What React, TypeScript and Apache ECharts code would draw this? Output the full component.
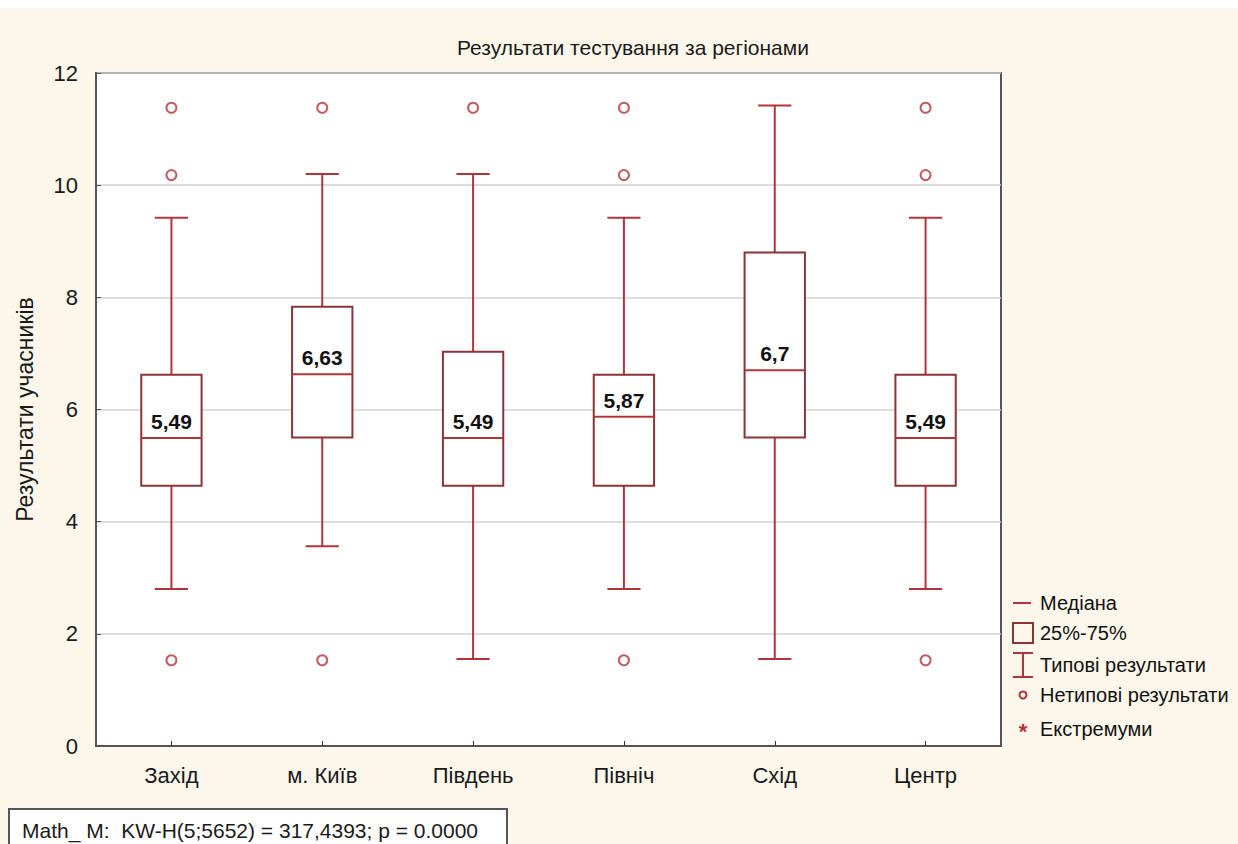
import React, { useEffect, useRef } from "react";
import * as echarts from "echarts";

const categories = ["Захід", "м. Київ", "Південь", "Північ", "Схід", "Центр"];
const whiskerLow = [2.8, 3.56, 1.55, 2.8, 1.55, 2.8];
const q1 = [4.64, 5.5, 4.64, 4.64, 5.5, 4.64];
const medians = [5.49, 6.63, 5.49, 5.87, 6.7, 5.49];
const q3 = [6.62, 7.83, 7.03, 6.62, 8.8, 6.62];
const whiskerHigh = [9.42, 10.2, 10.2, 9.42, 11.42, 9.42];
const outliers: [number, number][] = [
  [0, 1.53], [0, 10.18], [0, 11.38],
  [1, 1.53], [1, 11.38],
  [2, 11.38],
  [3, 1.53], [3, 10.18], [3, 11.38],
  [5, 1.53], [5, 10.18], [5, 11.38],
];
const yTicks = { min: 0, max: 12, interval: 2 };
const titleText = "Результати тестування за регіонами";
const yName = "Результати учасників";
const legendItems = ["Медіана", "25%-75%", "Типові результати", "Нетипові результати", "Екстремуми"];
const statText = "Math_ M:  KW-H(5;5652) = 317,4393; p = 0.0000";

const RED = "#b2343b";
const DARK = "#8a3438";
const FONT = "'Liberation Sans', Arial, sans-serif";

export default function App() {
  const ref = useRef<HTMLDivElement>(null);
  useEffect(() => {
    if (!ref.current) return;
    const chart = echarts.init(ref.current, null, { renderer: "svg" });
    const boxData = categories.map((_, i) => [i, whiskerLow[i], q1[i], medians[i], q3[i], whiskerHigh[i]]);

    const legendX = 1013;
    const legendTextX = 1040;
    const ly = [595, 625, 657, 687, 721];

    chart.setOption({
      animation: false,
      backgroundColor: "#fcf7ea",
      textStyle: { fontFamily: FONT },
      title: {
        text: titleText,
        left: 628,
        top: 24,
        textAlign: "center",
        textStyle: { fontSize: 21, fontWeight: "normal", color: "#1a1a1a", fontFamily: FONT },
      },
      grid: {
        left: 96,
        top: 65,
        width: 905,
        height: 673,
        show: true,
        backgroundColor: "#ffffff",
        borderColor: "#555555",
        borderWidth: 2,
      },
      xAxis: {
        type: "category",
        data: categories,
        boundaryGap: true,
        axisLine: { show: true, lineStyle: { color: "#555555", width: 2 } },
        axisTick: { show: true, alignWithLabel: true, inside: true, length: 5, lineStyle: { color: "#333" } },
        axisLabel: { fontSize: 22, color: "#1a1a1a", margin: 18, fontFamily: FONT },
        splitLine: { show: false },
      },
      yAxis: {
        type: "value",
        min: yTicks.min,
        max: yTicks.max,
        interval: yTicks.interval,
        name: yName,
        nameLocation: "middle",
        nameGap: 60,
        nameTextStyle: { fontSize: 23, color: "#1a1a1a", fontFamily: FONT },
        axisLine: { show: true, lineStyle: { color: "#555555", width: 2 } },
        axisTick: { show: true, inside: true, length: 5, lineStyle: { color: "#555" } },
        axisLabel: { fontSize: 22, color: "#1a1a1a", margin: 18, fontFamily: FONT },
        splitLine: { show: true, lineStyle: { color: "#d2d2d2", width: 1.5 } },
      },
      series: [
        {
          type: "custom",
          data: boxData,
          encode: { x: 0, y: [1, 2, 3, 4, 5] },
          renderItem: (params: any, api: any) => {
            const idx = api.value(0);
            const lo = api.coord([idx, api.value(1)]);
            const b1 = api.coord([idx, api.value(2)]);
            const md = api.coord([idx, api.value(3)]);
            const b3 = api.coord([idx, api.value(4)]);
            const hi = api.coord([idx, api.value(5)]);
            const band = api.size([1, 0])[0];
            const bw = band * 0.4;
            const cw = band * 0.22;
            const x = lo[0];
            const lineStyle = { stroke: RED, lineWidth: 2 };
            const medVal = String(api.value(3)).replace(".", ",");
            return {
              type: "group",
              children: [
                { type: "line", shape: { x1: x, y1: hi[1], x2: x, y2: b3[1] }, style: lineStyle },
                { type: "line", shape: { x1: x, y1: b1[1], x2: x, y2: lo[1] }, style: lineStyle },
                { type: "line", shape: { x1: x - cw / 2, y1: hi[1], x2: x + cw / 2, y2: hi[1] }, style: lineStyle },
                { type: "line", shape: { x1: x - cw / 2, y1: lo[1], x2: x + cw / 2, y2: lo[1] }, style: lineStyle },
                {
                  type: "rect",
                  shape: { x: x - bw / 2, y: b3[1], width: bw, height: b1[1] - b3[1] },
                  style: { fill: "#ffffff", stroke: DARK, lineWidth: 2 },
                },
                { type: "line", shape: { x1: x - bw / 2, y1: md[1], x2: x + bw / 2, y2: md[1] }, style: lineStyle },
                {
                  type: "text",
                  x: x,
                  y: md[1] - 6,
                  style: {
                    text: medVal,
                    fill: "#111111",
                    font: `bold 21px ${FONT}`,
                    textAlign: "center",
                    textVerticalAlign: "bottom",
                  },
                },
              ],
            };
          },
          z: 3,
        },
        {
          type: "scatter",
          data: outliers,
          symbol: "emptyCircle",
          symbolSize: 10,
          itemStyle: { color: RED, borderColor: RED, borderWidth: 2 },
          z: 4,
        },
      ],
      graphic: [
        { type: "line", shape: { x1: legendX, y1: ly[0], x2: legendX + 18, y2: ly[0] }, style: { stroke: RED, lineWidth: 2 } },
        { type: "rect", shape: { x: legendX, y: ly[1] - 10, width: 20, height: 20 }, style: { fill: "none", stroke: DARK, lineWidth: 2 } },
        { type: "line", shape: { x1: legendX, y1: ly[2] - 12, x2: legendX + 20, y2: ly[2] - 12 }, style: { stroke: RED, lineWidth: 2 } },
        { type: "line", shape: { x1: legendX + 10, y1: ly[2] - 12, x2: legendX + 10, y2: ly[2] + 12 }, style: { stroke: RED, lineWidth: 2 } },
        { type: "line", shape: { x1: legendX, y1: ly[2] + 12, x2: legendX + 20, y2: ly[2] + 12 }, style: { stroke: RED, lineWidth: 2 } },
        { type: "circle", shape: { cx: legendX + 10, cy: ly[3], r: 3.5 }, style: { fill: "none", stroke: RED, lineWidth: 2 } },
        { type: "text", x: legendX + 10, y: ly[4] + 2, style: { text: "*", fill: RED, font: `bold 22px ${FONT}`, textAlign: "center", textVerticalAlign: "middle" } },
        ...legendItems.map((t, i) => ({
          type: "text",
          x: legendTextX,
          y: ly[i],
          style: { text: t, fill: "#111111", font: `20px ${FONT}`, textAlign: "left", textVerticalAlign: "middle" },
        })),
        {
          type: "rect",
          shape: { x: 9, y: 801, width: 498, height: 50 },
          style: { fill: "#ffffff", stroke: "#555555", lineWidth: 2 },
        },
        {
          type: "text",
          x: 22,
          y: 822,
          style: { text: statText, fill: "#1a1a1a", font: `21px ${FONT}`, textAlign: "left", textVerticalAlign: "middle" },
        },
      ],
    });
    return () => chart.dispose();
  }, []);

  return (
    <div style={{ position: "absolute", left: 0, top: 0, width: 1238, height: 844, background: "#ffffff", overflow: "hidden" }}>
      <div ref={ref} style={{ position: "absolute", left: 0, top: 8, width: 1238, height: 836 }} />
    </div>
  );
}
